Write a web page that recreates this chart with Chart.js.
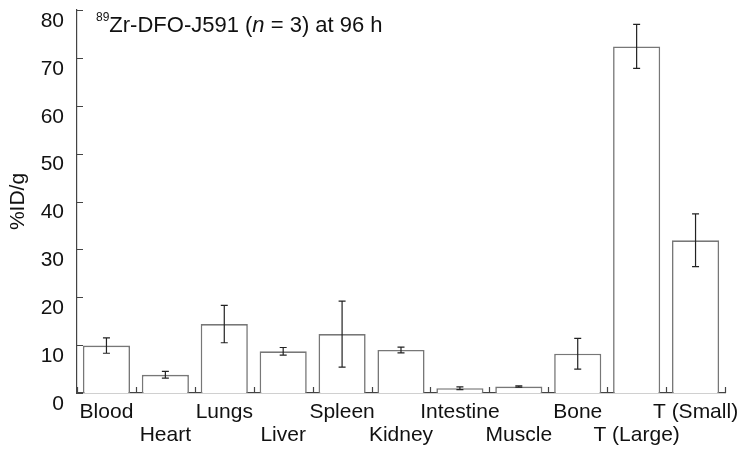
<!DOCTYPE html>
<html>
<head>
<meta charset="utf-8">
<script src="https://cdn.jsdelivr.net/npm/chart.js@4.4.1/dist/chart.umd.min.js"></script>
<style>
  html, body { margin: 0; padding: 0; background: #fff; }
</style>
</head>
<body>
<canvas id="chart-biodist" width="749" height="454"></canvas>
<script>
// Biodistribution of 89Zr-DFO-J591 at 96 h (%ID/g, mean ± SD)
const organs = ['Blood', 'Heart', 'Lungs', 'Liver', 'Spleen', 'Kidney', 'Intestine', 'Muscle', 'Bone', 'T (Large)', 'T (Small)'];
const uptake = [9.9, 3.8, 14.4, 8.7, 12.3, 9.0, 1.0, 1.35, 8.2, 72.4, 31.9];
const uptakeSD = [1.6, 0.7, 3.9, 0.8, 6.9, 0.6, 0.3, 0.15, 3.2, 4.6, 5.5];
const yTicks = [0, 10, 20, 30, 40, 50, 60, 70, 80];

const FONT = "'Liberation Sans', Arial, sans-serif";
const AXIS_COLOR = '#444';

// staggered labels: odd categories go on the second row
const tickLabels = organs.map((name, i) => i % 2 === 0 ? [name, ''] : ['', name]);

// error bars drawn on top of the bars
const errorBars = {
    id: 'errorBars',
    afterDatasetsDraw(chart) {
        const ctx = chart.ctx;
        const y = chart.scales.y;
        const meta = chart.getDatasetMeta(0);
        ctx.save();
        ctx.strokeStyle = '#222';
        ctx.lineWidth = 1.2;
        meta.data.forEach((bar, i) => {
            const top = y.getPixelForValue(uptake[i] + uptakeSD[i]);
            const bot = y.getPixelForValue(uptake[i] - uptakeSD[i]);
            ctx.beginPath();
            ctx.moveTo(bar.x, top); ctx.lineTo(bar.x, bot);
            ctx.moveTo(bar.x - 3.5, top); ctx.lineTo(bar.x + 3.5, top);
            ctx.moveTo(bar.x - 3.5, bot); ctx.lineTo(bar.x + 3.5, bot);
            ctx.stroke();
        });
        ctx.restore();
    }
};

// inward tick marks + the title text
const axisMarks = {
    id: 'axisMarks',
    afterDraw(chart) {
        const ctx = chart.ctx;
        const x = chart.scales.x;
        const y = chart.scales.y;
        const area = chart.chartArea;
        ctx.save();
        ctx.strokeStyle = AXIS_COLOR;
        ctx.lineWidth = 1.2;
        ctx.beginPath();
        yTicks.forEach(v => {
            const py = Math.round(y.getPixelForValue(v)) + 0.5;
            ctx.moveTo(area.left, py); ctx.lineTo(area.left + 6, py);
        });
        const step = x.width / organs.length;
        for (let i = 0; i <= organs.length; i++) {
            const px = Math.round(x.getPixelForValue(Math.min(i, organs.length - 1)) + (i < organs.length ? -step / 2 : step / 2)) + 0.5;
            ctx.moveTo(px, area.bottom); ctx.lineTo(px, area.bottom - 6);
        }
        ctx.stroke();

        // title: superscript mass number, italic n
        ctx.fillStyle = '#111';
        ctx.textBaseline = 'alphabetic';
        let tx = 96;
        ctx.font = `12px ${FONT}`;
        ctx.fillText('89', tx, 21);
        tx += ctx.measureText('89').width;
        const parts = [['Zr-DFO-J591 (', ''], ['n', 'italic '], [' = 3) at 96 h', '']];
        parts.forEach(([txt, style]) => {
            ctx.font = `${style}22px ${FONT}`;
            ctx.fillText(txt, tx, 32);
            tx += ctx.measureText(txt).width;
        });
        ctx.restore();
    }
};

new Chart(document.getElementById('chart-biodist'), {
    type: 'bar',
    data: {
        labels: tickLabels,
        datasets: [{
            label: '%ID/g',
            data: uptake,
            backgroundColor: '#fff',
            borderColor: '#777',
            borderWidth: 1.6,
            barPercentage: 0.8,
            categoryPercentage: 1.0
        }]
    },
    options: {
        responsive: false,
        animation: false,
        devicePixelRatio: 1,
        layout: { padding: { left: 0, right: 24, top: 10, bottom: 0 } },
        plugins: { legend: { display: false }, tooltip: { enabled: false } },
        scales: {
            x: {
                grid: { display: false, drawTicks: false },
                border: { display: true, color: AXIS_COLOR, width: 1.2 },
                ticks: {
                    color: '#111', autoSkip: false, maxRotation: 0, padding: 8,
                    font: { family: FONT, size: 21, lineHeight: 1.08 }
                },
                afterFit(scale) { scale.height = 61; scale.paddingLeft = 0; scale.paddingRight = 0; }
            },
            y: {
                min: 0, max: 80,
                grid: { display: false, drawTicks: false },
                border: { display: true, color: AXIS_COLOR, width: 1.2 },
                ticks: {
                    stepSize: 10, color: '#111', padding: 13, labelOffset: 11,
                    font: { family: FONT, size: 21 }
                },
                title: {
                    display: true, text: '%ID/g', color: '#111',
                    font: { family: FONT, size: 21 },
                    padding: { top: 6, bottom: 0 }
                },
                afterFit(scale) { scale.width = 77; scale.paddingTop = 0; scale.paddingBottom = 0; }
            }
        }
    },
    plugins: [errorBars, axisMarks]
});
</script>
</body>
</html>
